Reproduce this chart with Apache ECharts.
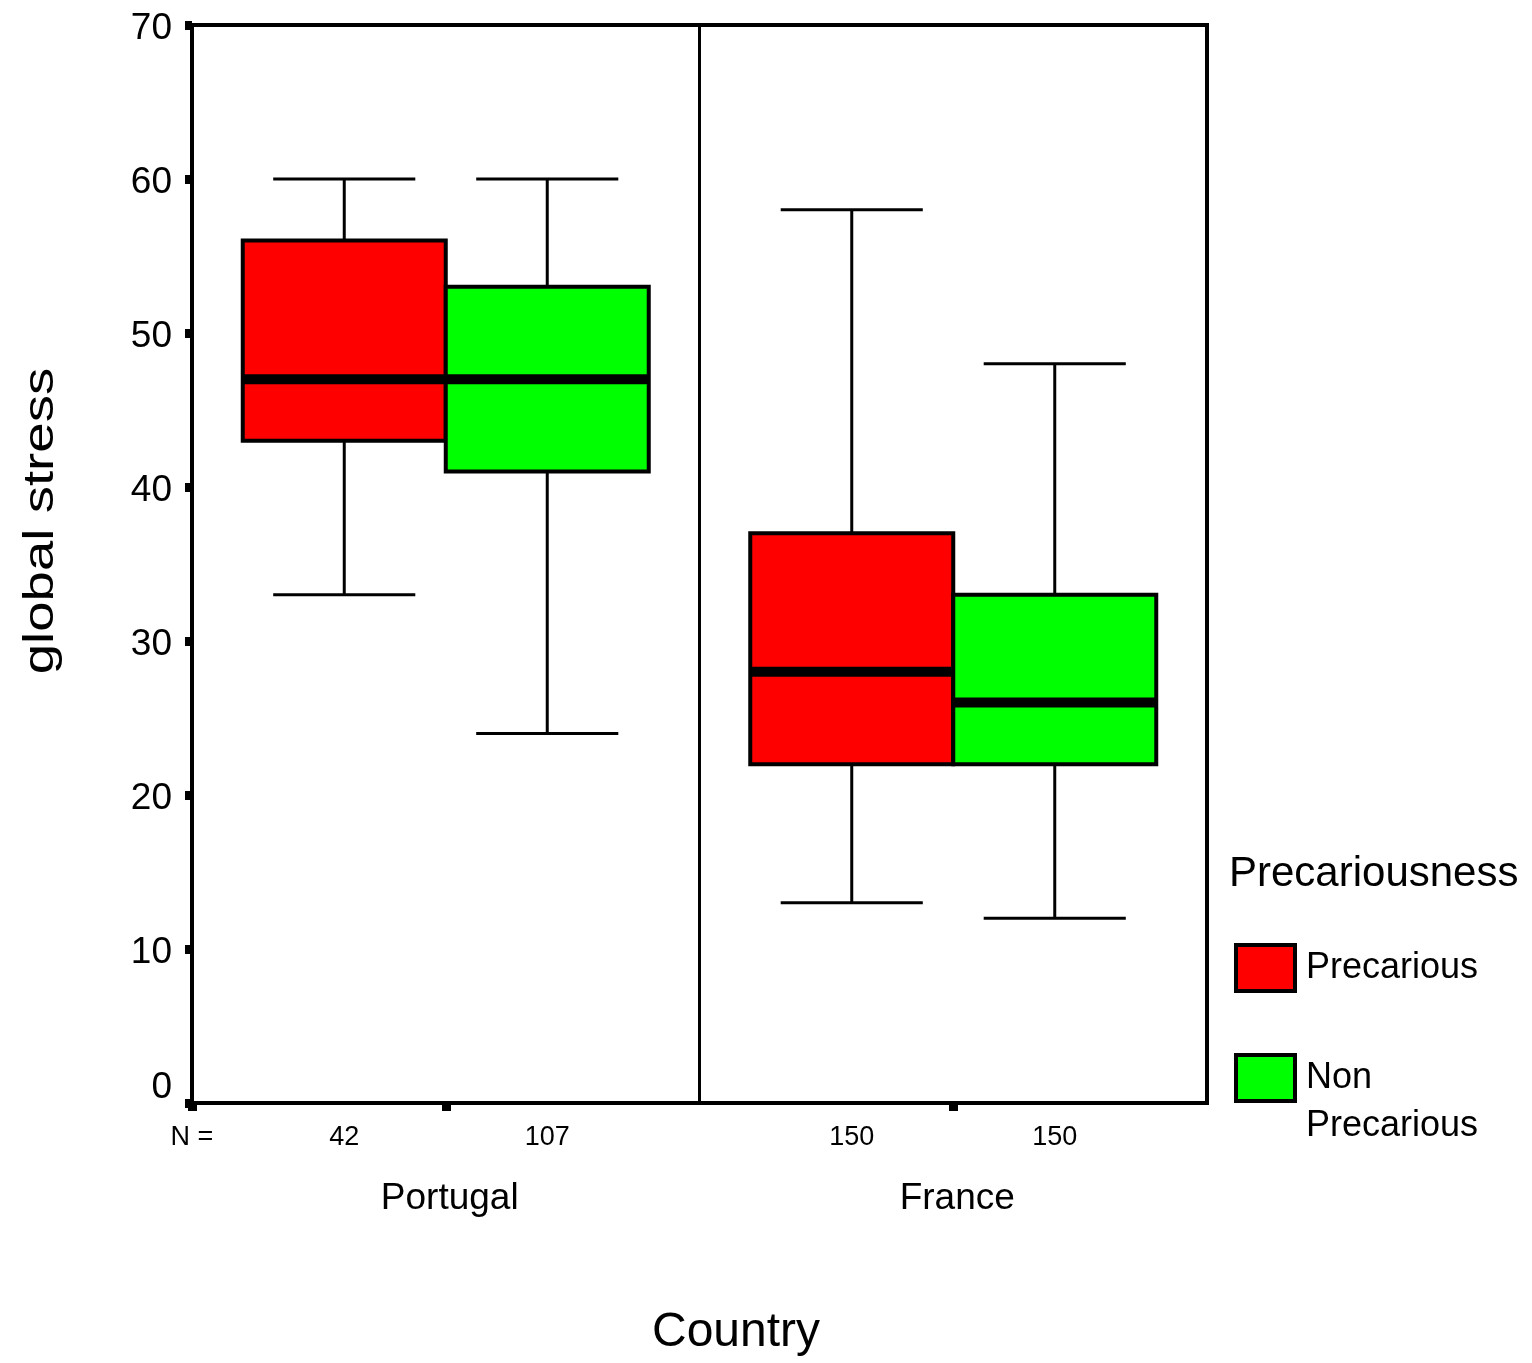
<!DOCTYPE html>
<html>
<head>
<meta charset="utf-8">
<script src="https://cdn.jsdelivr.net/npm/echarts@6/dist/echarts.min.js"></script>
<style>
  html, body { margin: 0; padding: 0; background: #ffffff; }
  #chart { width: 1532px; height: 1363px; }
</style>
</head>
<body>
<div id="chart"></div>
<script>
// Global stress by country and job precariousness
const countries = ['Portugal', 'France'];
const groups = ['Precarious', 'Non Precarious'];
// sample sizes per country: [precarious, non precarious]
const groupCounts = [[42, 107], [150, 150]];
// five-number summaries: [lower whisker, Q1, median, Q3, upper whisker]
const precariousStats = [[33, 43, 47, 56, 60], [13, 22, 28, 37, 58]];
const nonPrecariousStats = [[24, 41, 47, 53, 60], [12, 22, 26, 33, 48]];
const yTicks = [0, 10, 20, 30, 40, 50, 60, 70];

const FONT = '"Liberation Sans", Arial, Helvetica, sans-serif';
const colors = ['#ff0000', '#00ff00'];

// x layout: each country gets a slot of 10 units, boxes are 4 units wide
const SLOT = 10, PAD = 1, BOX_W = 4, CAP_W = 2.8;
const boxCenter = (ci, si) => ci * SLOT + PAD + BOX_W / 2 + si * BOX_W;
const slotCenter = ci => ci * SLOT + SLOT / 2;
const statsBySeries = [precariousStats, nonPrecariousStats];

// labels under the axis: "N =" at the origin, then counts under each box
const nLabels = new Map([[0, 'N =']]);
countries.forEach((c, ci) => groups.forEach((g, si) => nLabels.set(boxCenter(ci, si), String(groupCounts[ci][si]))));
const countryLabels = new Map(countries.map((c, ci) => [slotCenter(ci), c]));

function renderBox(params, api) {
  const x = api.value(0);
  const lo = api.coord([x, api.value(1)]);
  const q1 = api.coord([x, api.value(2)]);
  const med = api.coord([x, api.value(3)]);
  const q3 = api.coord([x, api.value(4)]);
  const hi = api.coord([x, api.value(5)]);
  const half = api.size([BOX_W, 0])[0] / 2;
  const capHalf = api.size([CAP_W, 0])[0] / 2;
  const cx = med[0];
  const line = (x1, y1, x2, y2, w) => ({
    type: 'line', shape: { x1, y1, x2, y2 },
    style: { stroke: '#000', lineWidth: w }
  });
  return {
    type: 'group',
    children: [
      line(cx, hi[1], cx, q3[1], 3),
      line(cx, q1[1], cx, lo[1], 3),
      line(cx - capHalf, hi[1], cx + capHalf, hi[1], 3),
      line(cx - capHalf, lo[1], cx + capHalf, lo[1], 3),
      {
        type: 'rect',
        shape: { x: cx - half, y: q3[1], width: half * 2, height: q1[1] - q3[1] },
        style: { fill: api.visual('color'), stroke: '#000', lineWidth: 4 }
      },
      line(cx - half, med[1], cx + half, med[1], 10)
    ]
  };
}

const series = groups.map((g, si) => ({
  name: g,
  type: 'custom',
  xAxisIndex: 0,
  yAxisIndex: 0,
  itemStyle: { color: colors[si] },
  encode: { x: 0, y: [1, 2, 3, 4, 5] },
  data: countries.map((c, ci) => [boxCenter(ci, si)].concat(statsBySeries[si][ci])),
  renderItem: renderBox,
  silent: true
}));

// divider between the two countries
series[0].markLine = {
  silent: true,
  symbol: ['none', 'none'],
  label: { show: false },
  lineStyle: { color: '#000', width: 3, type: 'solid' },
  data: [{ xAxis: SLOT }]
};

const chart = echarts.init(document.getElementById('chart'), null, { renderer: 'canvas' });
chart.setOption({
  animation: false,
  backgroundColor: '#ffffff',
  textStyle: { fontFamily: FONT },
  grid: {
    left: 192, top: 25, width: 1015, height: 1078,
    show: true, borderColor: '#000', borderWidth: 4, backgroundColor: 'transparent'
  },
  title: {
    text: 'Precariousness',
    left: 1229, top: 853, padding: 0,
    textStyle: { fontFamily: FONT, fontSize: 42, fontWeight: 'normal', color: '#000' }
  },
  legend: [
    {
      data: [{ name: groups[0], itemStyle: { color: colors[0], borderColor: '#000', borderWidth: 4 } }],
      left: 1234, top: 943, padding: 0,
      icon: 'rect', itemWidth: 59, itemHeight: 46,
      selectedMode: false,
      textStyle: { fontFamily: FONT, fontSize: 36, color: '#000', padding: [4, 0, 0, 6] }
    },
    {
      data: [{ name: groups[1], itemStyle: { color: colors[1], borderColor: '#000', borderWidth: 4 } }],
      left: 1234, top: 1006, padding: 0,
      icon: 'rect', itemWidth: 59, itemHeight: 46,
      selectedMode: false,
      formatter: () => ' \nNon\nPrecarious',
      textStyle: { fontFamily: FONT, fontSize: 36, lineHeight: 48, color: '#000', padding: [0, 0, 0, 6] }
    }
  ],
  xAxis: [
    {
      type: 'value', min: 0, max: SLOT * countries.length, position: 'bottom',
      axisLine: { show: true, lineStyle: { color: '#000', width: 4 } },
      axisTick: {
        show: true, customValues: [0].concat(countries.map((c, ci) => slotCenter(ci))),
        length: 8, lineStyle: { color: '#000', width: 9 }
      },
      axisLabel: {
        customValues: Array.from(nLabels.keys()),
        formatter: v => nLabels.get(v) || '',
        fontFamily: FONT, fontSize: 27, color: '#000', margin: 21
      },
      splitLine: { show: false }
    },
    {
      type: 'value', min: 0, max: SLOT * countries.length, position: 'bottom',
      axisLine: { show: false },
      axisTick: { show: false },
      axisLabel: {
        customValues: Array.from(countryLabels.keys()),
        formatter: v => countryLabels.get(v) || '',
        fontFamily: FONT, fontSize: 37, color: '#000', margin: 77,
        padding: [0, 0, 0, 8]
      },
      splitLine: { show: false },
      name: 'Country',
      nameLocation: 'middle',
      nameGap: 206,
      nameTextStyle: { fontFamily: FONT, fontSize: 48, color: '#000', padding: [0, 0, 0, 73] }
    }
  ],
  yAxis: {
    type: 'value', min: yTicks[0], max: yTicks[yTicks.length - 1], interval: 10,
    axisLine: { show: true, lineStyle: { color: '#000', width: 4 } },
    axisTick: { show: true, length: 7, lineStyle: { color: '#000', width: 9 } },
    axisLabel: {
      fontFamily: FONT, fontSize: 37, color: '#000', margin: 20,
      padding: [7, 0, 0, 0],
      formatter: v => (v === 0 ? '{lift|0}' : String(v)),
      rich: { lift: { fontFamily: FONT, fontSize: 37, color: '#000', padding: [0, 0, 38, 0] } }
    },
    splitLine: { show: false }
  },
  graphic: [
    {
      type: 'text',
      x: 41, y: 521,
      rotation: Math.PI / 2,
      scaleX: 1.3,
      style: {
        text: 'global stress',
        font: '42px ' + FONT,
        fill: '#000',
        align: 'center',
        verticalAlign: 'middle'
      }
    }
  ],
  series: series
});
</script>
</body>
</html>
